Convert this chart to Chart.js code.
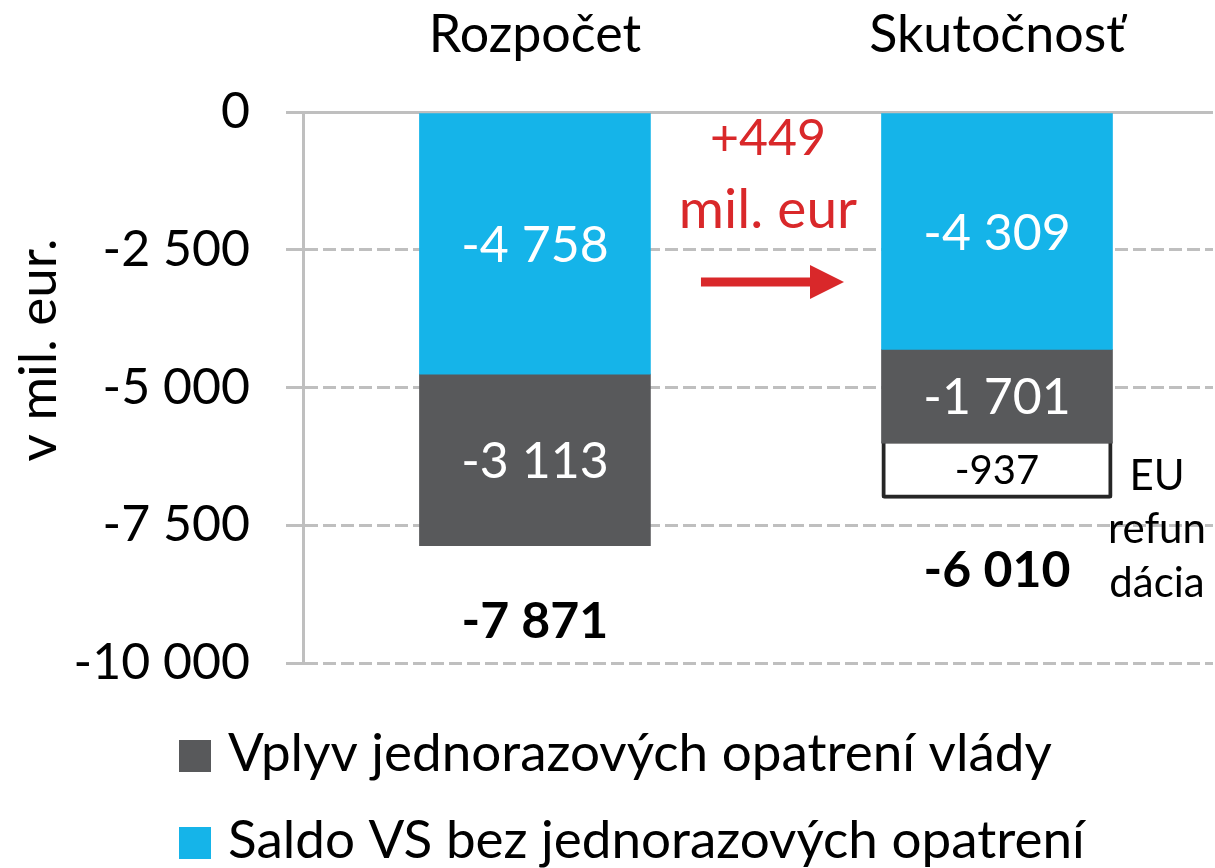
<!DOCTYPE html>
<html><head><meta charset="utf-8">
<script src="https://cdn.jsdelivr.net/npm/chart.js@4/dist/chart.umd.min.js"></script>
<style>html,body{margin:0;padding:0;background:#fff;overflow:hidden}canvas{display:block}</style>
</head><body>
<canvas id="c" width="1215" height="868"></canvas>
<script>
const categories = ['Rozpočet', 'Skutočnosť'];
const saldoBezOpatreni = [-4758, -4309];
const vplyvOpatreni = [-3113, -1701];
const euRefundacia = [null, -937];
const yTicks = [0, -2500, -5000, -7500, -10000];
const seriesNames = ['Saldo VS bez jednorazových opatrení', 'Vplyv jednorazových opatrení vlády', 'EU refundácia'];
const seriesColors = ['#15B4E9', '#58595B', '#FFFFFF'];
const euNote = ['EU', 'refun', 'dácia'];
const changeUnit = 'mil. eur';
const yTitle = 'v mil. eur.';

const FONT = 'Lato';
function fmt(v, plus) {
  const s = Math.abs(v).toString().replace(/\B(?=(\d{3})+(?!\d))/g, ' ');
  return (v < 0 ? '-' : (plus && v > 0 ? '+' : '')) + s;
}

const overlay = {
  id: 'overlay',
  afterDatasetsDraw(chart) {
    const ctx = chart.ctx;
    const area = chart.chartArea;
    const metas = [0, 1, 2].map(i => chart.getDatasetMeta(i));
    ctx.save();
    // segment labels
    metas.forEach((meta, d) => {
      meta.data.forEach((el, i) => {
        const v = chart.data.datasets[d].data[i].y;
        if (v === null || v === undefined) return;
        ctx.fillStyle = d === 2 ? '#000' : '#fff';
        ctx.font = (d === 2 ? '40px ' : '50px ') + FONT;
        ctx.textAlign = 'center';
        ctx.textBaseline = 'middle';
        ctx.fillText(fmt(v), el.x, (el.y + el.base) / 2 + 2);
      });
    });
    // totals and category labels
    categories.forEach((cat, i) => {
      const x = metas[0].data[i].x;
      let bottom = 0;
      metas.forEach((meta, d) => {
        const v = chart.data.datasets[d].data[i].y;
        if (v === null || v === undefined) return;
        bottom = Math.max(bottom, meta.data[i].y, meta.data[i].base);
      });
      const total = saldoBezOpatreni[i] + vplyvOpatreni[i];
      ctx.fillStyle = '#000';
      ctx.textAlign = 'center';
      ctx.textBaseline = 'alphabetic';
      ctx.font = 'bold 50px ' + FONT;
      ctx.fillText(fmt(total), x, bottom + 92);
      ctx.font = '52px ' + FONT;
      ctx.fillText(cat, x, 52);
    });
    // EU note
    const euEl = metas[2].data[1];
    ctx.font = '42px ' + FONT;
    ctx.fillStyle = '#000';
    ctx.textAlign = 'center';
    euNote.forEach((t, k) => ctx.fillText(t, euEl.x + 160, euEl.y - 5 + k * 53.5));
    // change annotation
    const b0 = metas[0].data[0], b1 = metas[0].data[1];
    const midX = ((b0.x + b0.width / 2) + (b1.x - b1.width / 2)) / 2 + 2;
    const change = saldoBezOpatreni[1] - saldoBezOpatreni[0];
    ctx.fillStyle = '#D9282A';
    ctx.font = '50px ' + FONT;
    ctx.fillText(fmt(change, true), midX, area.top + 43);
    ctx.font = '55px ' + FONT;
    ctx.fillText(changeUnit, midX, area.top + 116);
    const ay = area.top + 170;
    ctx.fillRect(midX - 67, ay - 4.5, 112, 9);
    ctx.beginPath();
    ctx.moveTo(midX + 42, ay - 17);
    ctx.lineTo(midX + 76, ay);
    ctx.lineTo(midX + 42, ay + 17);
    ctx.closePath();
    ctx.fill();
    // y title
    ctx.save();
    ctx.translate(56, 350);
    ctx.rotate(-Math.PI / 2);
    ctx.fillStyle = '#000';
    ctx.font = '53px ' + FONT;
    ctx.textAlign = 'center';
    ctx.fillText(yTitle, 0, 0);
    ctx.restore();
    // legend (gray first, then blue)
    const legendItems = [1, 0];
    legendItems.forEach((d, k) => {
      const top = 740 + k * 87;
      ctx.fillStyle = seriesColors[d];
      ctx.fillRect(179, top, 32, 32);
      ctx.fillStyle = '#000';
      ctx.font = '53px ' + FONT;
      ctx.textAlign = 'left';
      ctx.fillText(seriesNames[d], 228, top + 31);
    });
    ctx.restore();
  }
};

function build() {
  Chart.defaults.font.family = FONT;
  new Chart(document.getElementById('c'), {
    type: 'bar',
    data: {
      datasets: [
        { label: seriesNames[0], data: saldoBezOpatreni.map((v, i) => ({ x: i, y: v })),
          backgroundColor: seriesColors[0], barThickness: 231 },
        { label: seriesNames[1], data: vplyvOpatreni.map((v, i) => ({ x: i, y: v })),
          backgroundColor: seriesColors[1], barThickness: 231 },
        { label: seriesNames[2], data: euRefundacia.map((v, i) => ({ x: i, y: v })),
          backgroundColor: seriesColors[2], borderColor: '#262626', borderWidth: 4,
          borderSkipped: false, borderRadius: 3, barThickness: 223, inflateAmount: 4 }
      ]
    },
    options: {
      responsive: false,
      animation: false,
      layout: { padding: { top: 112, bottom: 205, left: 0, right: 2 } },
      plugins: { legend: { display: false }, tooltip: { enabled: false } },
      scales: {
        x: { type: 'linear', display: false, stacked: true, offset: false, min: -0.502, max: 1.4675 },
        y: {
          stacked: true, min: -10000, max: 0,
          afterFit(s) { s.width = 303; },
          afterBuildTicks(s) { s.ticks = yTicks.map(v => ({ value: v })); },
          ticks: { color: '#000', font: { size: 50 }, padding: 36, callback: v => fmt(v) },
          grid: { color: '#BFBFBF', lineWidth: 3, tickLength: 17, tickColor: '#BFBFBF', tickWidth: 3, tickBorderDash: [] },
          border: { display: true, color: '#BFBFBF', width: 3,
            dash: c => (c.tick && c.tick.value !== 0) ? [13, 5] : [] }
        }
      }
    },
    plugins: [overlay]
  });
}
if (document.fonts && document.fonts.load) {
  Promise.all([document.fonts.load('50px Lato'), document.fonts.load('bold 50px Lato')]).then(build, build);
} else build();
</script>
</body></html>
